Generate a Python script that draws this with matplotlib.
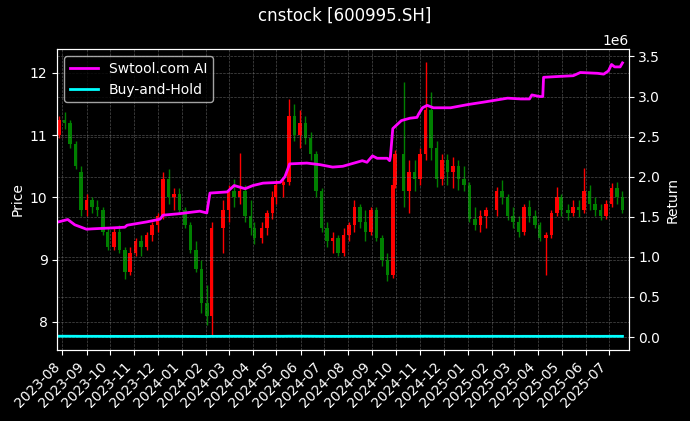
import matplotlib
matplotlib.use('Agg')
import matplotlib.pyplot as plt
import matplotlib.dates as mdates
import numpy as np
import pandas as pd

# weekly candles (price, left axis)
bar_dates = ['2023-07-28', '2023-08-04', '2023-08-11', '2023-08-18', '2023-08-25', '2023-09-01',
             '2023-09-08', '2023-09-15', '2023-09-22', '2023-09-28', '2023-10-06', '2023-10-13',
             '2023-10-20', '2023-10-27', '2023-11-03', '2023-11-10', '2023-11-17', '2023-11-24',
             '2023-12-01', '2023-12-08', '2023-12-15', '2023-12-22', '2023-12-29', '2024-01-05',
             '2024-01-12', '2024-01-19', '2024-01-26', '2024-02-02', '2024-02-08', '2024-02-23',
             '2024-03-01', '2024-03-08', '2024-03-15', '2024-03-22', '2024-03-29', '2024-04-03',
             '2024-04-12', '2024-04-19', '2024-04-26', '2024-04-30', '2024-05-10', '2024-05-17',
             '2024-05-24', '2024-05-31', '2024-06-07', '2024-06-14', '2024-06-21', '2024-06-28',
             '2024-07-05', '2024-07-12', '2024-07-19', '2024-07-26', '2024-08-02', '2024-08-09',
             '2024-08-16', '2024-08-23', '2024-08-30', '2024-09-06', '2024-09-13', '2024-09-20',
             '2024-09-27', '2024-09-30', '2024-10-11', '2024-10-18', '2024-10-25', '2024-11-01',
             '2024-11-08', '2024-11-15', '2024-11-22', '2024-11-29', '2024-12-06', '2024-12-13',
             '2024-12-20', '2024-12-27', '2025-01-03', '2025-01-10', '2025-01-17', '2025-01-24',
             '2025-02-07', '2025-02-14', '2025-02-21', '2025-02-28', '2025-03-07', '2025-03-14',
             '2025-03-21', '2025-03-28', '2025-04-03', '2025-04-11', '2025-04-18', '2025-04-25',
             '2025-04-30', '2025-05-09', '2025-05-16', '2025-05-23', '2025-05-30', '2025-06-06',
             '2025-06-13', '2025-06-20', '2025-06-27', '2025-07-04', '2025-07-11', '2025-07-18']
opens = [11.00, 11.25, 11.20, 10.85, 10.40, 9.80, 9.95, 9.85, 9.80, 9.45, 9.20, 9.45,
         9.15, 8.80, 9.10, 9.30, 9.20, 9.40, 9.55, 9.70, 10.30, 10.00, 10.05, 9.80,
         9.55, 9.15, 8.85, 8.30, 8.10, 9.50, 9.80, 10.10, 10.00, 10.10, 9.70, 9.50,
         9.35, 9.50, 9.75, 10.00, 10.20, 10.25, 11.30, 11.00, 11.20, 10.95, 10.70, 10.10,
         9.50, 9.30, 9.35, 9.10, 9.40, 9.55, 9.85, 9.60, 9.45, 9.80, 9.35, 9.00,
         8.75, 10.20, 10.70, 10.10, 10.40, 10.30, 10.70, 11.40, 10.80, 10.30, 10.60, 10.40,
         10.50, 10.30, 10.20, 9.65, 9.55, 9.70, 9.80, 10.10, 10.00, 9.70, 9.60, 9.45,
         9.85, 9.70, 9.55, 9.35, 9.40, 9.75, 10.00, 9.80, 9.75, 9.85, 9.80, 10.10,
         9.90, 9.80, 9.70, 9.90, 10.15, 10.00]
highs = [11.30, 11.37, 11.25, 10.90, 10.50, 10.05, 10.00, 9.95, 9.85, 9.50, 9.50, 9.55,
         9.20, 9.20, 9.35, 9.40, 9.45, 9.60, 9.75, 10.40, 10.45, 10.15, 10.15, 9.85,
         9.60, 9.30, 9.00, 8.60, 9.60, 9.95, 10.20, 10.30, 10.71, 10.20, 9.95, 9.60,
         9.60, 9.80, 10.10, 10.28, 10.30, 11.58, 11.50, 11.40, 11.30, 11.05, 10.75, 10.15,
         9.60, 9.45, 9.40, 9.50, 9.60, 9.96, 9.90, 9.80, 9.85, 9.85, 9.40, 9.10,
         10.30, 10.76, 11.86, 10.60, 10.60, 10.80, 12.17, 11.70, 10.90, 10.70, 10.70, 10.65,
         10.60, 10.50, 10.25, 9.85, 9.80, 9.85, 10.17, 10.28, 10.05, 9.85, 9.70, 9.90,
         9.96, 9.80, 9.60, 9.45, 9.80, 10.17, 10.05, 9.90, 9.95, 9.96, 10.47, 10.20,
         10.00, 9.90, 9.95, 10.23, 10.25, 10.10]
lows = [10.95, 11.10, 10.80, 10.45, 9.70, 9.70, 9.75, 9.70, 9.40, 9.15, 9.15, 9.10,
        8.69, 8.75, 9.05, 9.05, 9.15, 9.30, 9.45, 9.65, 9.90, 9.80, 9.75, 9.50,
        9.10, 8.80, 8.15, 7.95, 7.78, 9.10, 9.60, 9.85, 9.90, 9.60, 9.40, 9.25,
        9.27, 9.40, 9.65, 9.90, 10.00, 10.20, 10.90, 10.80, 10.85, 10.60, 10.00, 9.45,
        9.20, 9.10, 9.05, 9.05, 9.30, 9.45, 9.50, 9.30, 9.40, 9.30, 8.90, 8.65,
        8.70, 10.15, 9.85, 9.75, 10.10, 10.20, 10.60, 10.60, 10.17, 10.20, 10.20, 10.15,
        10.12, 10.10, 9.60, 9.48, 9.45, 9.50, 9.70, 9.90, 9.64, 9.50, 9.37, 9.40,
        9.60, 9.50, 9.30, 8.76, 9.35, 9.70, 9.70, 9.64, 9.70, 9.69, 9.75, 9.80,
        9.70, 9.64, 9.65, 9.85, 9.90, 9.75]
closes = [11.25, 11.20, 10.85, 10.50, 9.80, 9.95, 9.85, 9.80, 9.45, 9.20, 9.45, 9.15,
          8.80, 9.10, 9.30, 9.20, 9.40, 9.55, 9.70, 10.30, 10.00, 10.05, 9.80, 9.55,
          9.15, 8.85, 8.30, 8.10, 9.50, 9.80, 10.10, 10.00, 10.10, 9.70, 9.50, 9.35,
          9.50, 9.75, 10.00, 10.20, 10.25, 11.30, 11.00, 11.20, 10.95, 10.70, 10.10, 9.50,
          9.30, 9.35, 9.10, 9.40, 9.55, 9.85, 9.60, 9.45, 9.80, 9.35, 9.00, 8.75,
          10.20, 10.70, 10.10, 10.40, 10.30, 10.70, 11.40, 10.80, 10.30, 10.60, 10.40, 10.50,
          10.30, 10.20, 9.65, 9.55, 9.70, 9.80, 10.10, 10.00, 9.70, 9.60, 9.45, 9.85,
          9.70, 9.55, 9.35, 9.40, 9.75, 10.00, 9.80, 9.75, 9.85, 9.80, 10.10, 9.90,
          9.80, 9.70, 9.90, 10.15, 10.00, 9.80]

# strategy equity (right axis)
eq_dates = ['2023-07-27', '2023-08-08', '2023-08-17', '2023-09-01', '2023-09-09', '2023-10-01',
            '2023-10-20', '2023-10-23', '2023-11-17', '2023-12-04', '2023-12-08', '2023-12-30',
            '2024-01-24', '2024-02-02', '2024-02-06', '2024-02-28', '2024-03-08', '2024-03-22',
            '2024-04-01', '2024-04-14', '2024-05-06', '2024-05-12', '2024-05-18', '2024-06-09',
            '2024-06-26', '2024-07-12', '2024-07-25', '2024-08-12', '2024-08-19', '2024-08-25',
            '2024-09-01', '2024-09-07', '2024-09-20', '2024-09-23', '2024-09-24', '2024-09-27',
            '2024-10-08', '2024-10-19', '2024-10-28', '2024-10-30', '2024-11-04', '2024-11-10',
            '2024-11-18', '2024-12-10', '2025-01-01', '2025-01-21', '2025-02-21', '2025-03-10',
            '2025-03-21', '2025-03-24', '2025-04-03', '2025-04-07', '2025-04-08', '2025-04-26',
            '2025-05-16', '2025-05-25', '2025-06-16', '2025-06-24', '2025-06-30', '2025-07-04',
            '2025-07-08', '2025-07-15', '2025-07-18']
equity = [1.436, 1.466, 1.40, 1.345, 1.35, 1.36, 1.37, 1.395, 1.436, 1.47, 1.52, 1.54,
          1.57, 1.548, 1.796, 1.81, 1.89, 1.85, 1.89, 1.92, 1.93, 2.00, 2.16, 2.17,
          2.15, 2.12, 2.13, 2.18, 2.20, 2.18, 2.26, 2.23, 2.23, 2.20, 2.25, 2.60,
          2.70, 2.73, 2.74, 2.78, 2.86, 2.89, 2.86, 2.86, 2.90, 2.93, 2.98, 2.97,
          2.97, 3.02, 3.00, 3.00, 3.24, 3.25, 3.26, 3.30, 3.29, 3.28, 3.32, 3.40,
          3.37, 3.37, 3.42]

bx = mdates.date2num(pd.to_datetime(bar_dates))
ex = mdates.date2num(pd.to_datetime(eq_dates))
o = np.array(opens)
h = np.array(highs)
l = np.array(lows)
c = np.array(closes)
eq = np.array(equity) * 1e6
buy_hold = 10000 * c / c[0]

plt.style.use('dark_background')
fig, ax = plt.subplots(figsize=(6.9, 4.21), dpi=100)
fig.subplots_adjust(left=0.083, right=0.911, top=0.883, bottom=0.169)

cols = np.where(c >= o, 'red', 'green')
ax.vlines(bx, l, h, colors=cols, linewidth=1.0)
ax.bar(bx, np.abs(c - o), bottom=np.minimum(o, c), width=4.5, color=cols, linewidth=0)

ax.set_ylabel('Price')
ax.set_ylim(7.55, 12.38)
ax.set_xlim(mdates.date2num(pd.Timestamp('2023-07-25 14:00')),
            mdates.date2num(pd.Timestamp('2025-07-25 20:00')))
ax.xaxis.set_major_locator(mdates.MonthLocator())
ax.xaxis.set_major_formatter(mdates.DateFormatter('%Y-%m'))
plt.setp(ax.get_xticklabels(), rotation=45, ha='right')
ax.grid(True, color='gray', linestyle='--', linewidth=0.5, alpha=0.6)

ax2 = ax.twinx()
ax2.plot(ex, eq, color='magenta', linewidth=2, label='Swtool.com AI')
ax2.plot(bx, buy_hold, color='cyan', linewidth=2, label='Buy-and-Hold')
ax2.set_ylim(-0.16e6, 3.59e6)
ax2.set_ylabel('Return')
ax2.grid(True, color='gray', linestyle='--', linewidth=0.5, alpha=0.6)
ax2.legend(loc='upper left')

fig.suptitle('cnstock [600995.SH]', fontsize=12, y=0.985)
fig.savefig('out.png', dpi=100)
